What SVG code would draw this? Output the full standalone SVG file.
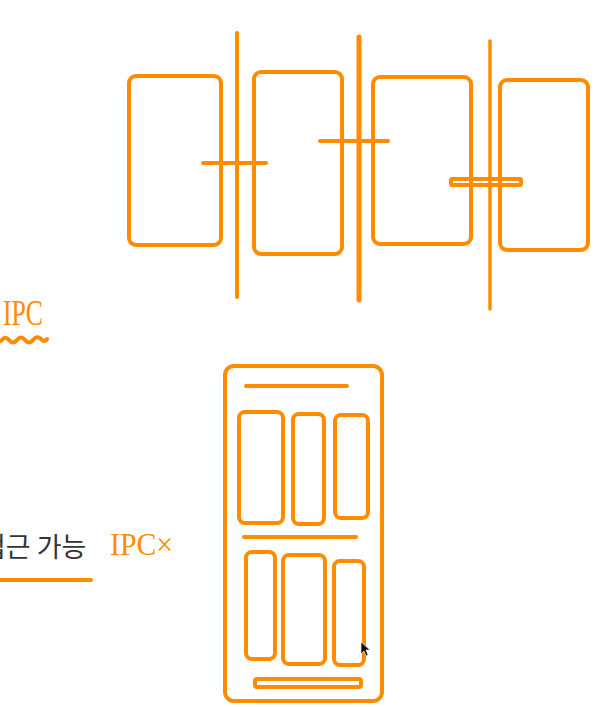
<svg xmlns="http://www.w3.org/2000/svg" width="595" height="707" viewBox="0 0 595 707">
<style>
.s{fill:none;stroke:#FF8C00;stroke-width:4;stroke-linecap:round;stroke-linejoin:round}
.t{stroke-width:5}
.n{stroke-width:3.5}
.h{font-family:"Liberation Serif",serif;fill:#FF8C00}
.k{font-family:"Noto Sans CJK KR","Noto Sans",sans-serif;fill:#333;font-weight:400}
</style>
<rect width="595" height="707" fill="#fff"/>
<g id="process-1"><rect class="s" x="129" y="76" width="92" height="169" rx="7"/></g>
<g id="process-2"><rect class="s" x="254" y="72" width="88" height="182" rx="7"/></g>
<g id="process-3"><rect class="s" x="373" y="77" width="98" height="167" rx="7"/></g>
<g id="process-4"><rect class="s" x="500" y="80" width="88" height="170" rx="7"/></g>
<g id="connectors">
<line class="s" x1="237" y1="33" x2="237" y2="297"/>
<line class="s" x1="203" y1="163" x2="266" y2="163"/>
<line class="s t" x1="359" y1="37" x2="359" y2="300"/>
<line class="s" x1="320" y1="141" x2="388" y2="141"/>
<line class="s n" x1="490" y1="41" x2="490" y2="309"/>
<rect class="s" x="451" y="179" width="70" height="6" rx="1" stroke-width="3"/>
</g>
<g id="label-ipc">
<text class="h" x="3" y="325" font-size="36" textLength="40" lengthAdjust="spacingAndGlyphs">IPC</text>
<path class="s" stroke-width="2.5" d="M1 341 q4 -6 8 -1 t8 0 t8 0 t8 0 t8 -1 t6 0"/>
</g>
<g id="label-access">
<text class="k" x="-19" y="557" font-size="27">접근 가능</text>
<text class="h" x="110" y="555" font-size="32" textLength="63" lengthAdjust="spacingAndGlyphs">IPC×</text>
<line class="s" stroke-width="5" x1="0" y1="580" x2="91" y2="580"/>
</g>
<g id="phone">
<rect class="s" x="225" y="366" width="157" height="335" rx="9"/>
<line class="s" x1="246" y1="386" x2="347" y2="386"/>
<rect class="s" x="239" y="412" width="44" height="111" rx="6"/>
<rect class="s" x="293" y="414" width="31" height="110" rx="6"/>
<rect class="s" x="335" y="415" width="33" height="103" rx="6"/>
<line class="s" x1="244" y1="537" x2="356" y2="537"/>
<rect class="s" x="246" y="552" width="29" height="107" rx="6"/>
<rect class="s" x="283" y="555" width="42" height="109" rx="6"/>
<rect class="s" x="334" y="561" width="30" height="104" rx="6"/>
<rect class="s" x="255" y="679" width="106" height="8" rx="2" stroke-width="3"/>
</g>
<g id="cursor">
<path d="M361 642 L361 654 L364 651 L366 656 L368 655 L366 650 L370 650 Z" fill="#111" stroke="#fff" stroke-width="0.6"/>
</g>
</svg>
